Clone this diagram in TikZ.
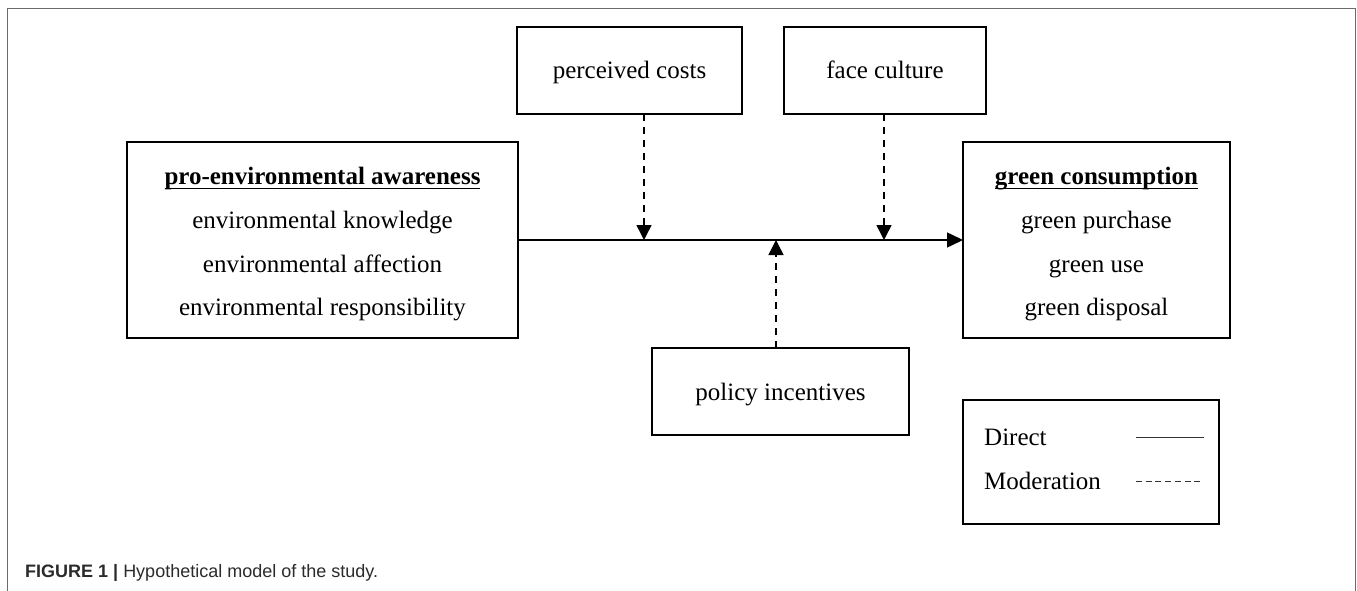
\documentclass[tikz,border=0pt]{standalone}
\usepackage{fontspec}
\setmainfont{Liberation Serif}
\newfontfamily\capfont{Liberation Sans}
\usetikzlibrary{arrows.meta}

% bold heading with a rule that runs through the descenders
\newcommand\boxheading[1]{%
  \setbox0\hbox{\bfseries #1}%
  \rlap{\rule[-4.6pt]{\wd0}{1.3pt}}\box0}

\definecolor{framegray}{HTML}{6B6B6B}
\definecolor{capgray}{HTML}{2B2B2B}

\begin{document}
\begin{tikzpicture}[x=1pt,y=-1pt,
  box/.style={draw=black, line width=1.5pt, inner sep=0pt, outer sep=0pt},
  txt/.style={font=\fontsize{25}{30}\selectfont, anchor=base, inner sep=0pt},
  direct/.style={line width=1.5pt, -{Triangle[length=16pt,width=15pt]}},
  moderation/.style={line width=1.5pt, dash pattern=on 7pt off 6pt,
                     -{Triangle[length=15pt,width=15pt]}}]

  % page and outer frame
  \fill[white] (0,0) rectangle (1357,591);
  \useasboundingbox (0,0) rectangle (1357,591);
  \draw[framegray, line width=1pt] (7,591) -- (7,9) -- (1355,9) -- (1355,591);

  % boxes
  \node[box, minimum width=391pt, minimum height=196pt] (aware)  at (322.5,240) {};
  \node[box, minimum width=267pt, minimum height=196pt] (cons)   at (1096.5,240) {};
  \node[box, minimum width=225pt, minimum height=87pt]  (cost)   at (629.5,70.5) {};
  \node[box, minimum width=202pt, minimum height=87pt]  (face)   at (885,70.5) {};
  \node[box, minimum width=257pt, minimum height=87pt]  (policy) at (780.5,391.5) {};
  \node[box, line width=1.2pt, minimum width=256pt, minimum height=124pt] (legend) at (1091,462) {};

  % box texts
  \node[txt] (aware0) at (322.5,184.5) {\boxheading{pro-environmental awareness}};
  \node[txt] (aware1) at (322.5,228.5) {environmental knowledge};
  \node[txt] (aware2) at (322.5,272) {environmental affection};
  \node[txt] (aware3) at (322.5,315.5) {environmental responsibility};

  \node[txt] (cons0) at (1096.5,184.5) {\boxheading{green consumption}};
  \node[txt] (cons1) at (1096.5,228.5) {green purchase};
  \node[txt] (cons2) at (1096.5,272) {green use};
  \node[txt] (cons3) at (1096.5,315.5) {green disposal};

  \node[txt] (costtxt)   at (629.5,79) {perceived costs};
  \node[txt] (facetxt)   at (885,79) {face culture};
  \node[txt] (policytxt) at (780.5,400) {policy incentives};

  % points where the moderators meet the direct path
  \coordinate (j1) at (644,240);
  \coordinate (j2) at (884,240);
  \coordinate (j3) at (776,240);

  % connectors
  \draw[direct] (aware.east) -- (cons.west);
  \draw[moderation] (cost.south -| j1) -- (j1);
  \draw[moderation] (face.south -| j2) -- (j2);
  \draw[moderation] (policy.north -| j3) -- (j3);

  % legend
  \node[txt, anchor=base west] (ldirect) at (984,445) {Direct};
  \node[txt, anchor=base west] (lmod)    at (984,489) {Moderation};
  \coordinate (ld1) at (1136,437);
  \coordinate (ld2) at (1204,437);
  \coordinate (lm1) at (1136,481);
  \coordinate (lm2) at (1201,481);
  \draw[line width=1pt, black!80] (ld1) -- (ld2);
  \draw[line width=1pt, black!80, dash pattern=on 6pt off 3.7pt] (lm1) -- (lm2);

  % caption
  \node[anchor=base west, inner sep=0pt, text=capgray,
        font=\capfont\fontsize{18}{22}\selectfont] (caption) at (25,577)
        {\textbf{FIGURE 1 |} Hypothetical model of the study.};
\end{tikzpicture}
\end{document}
